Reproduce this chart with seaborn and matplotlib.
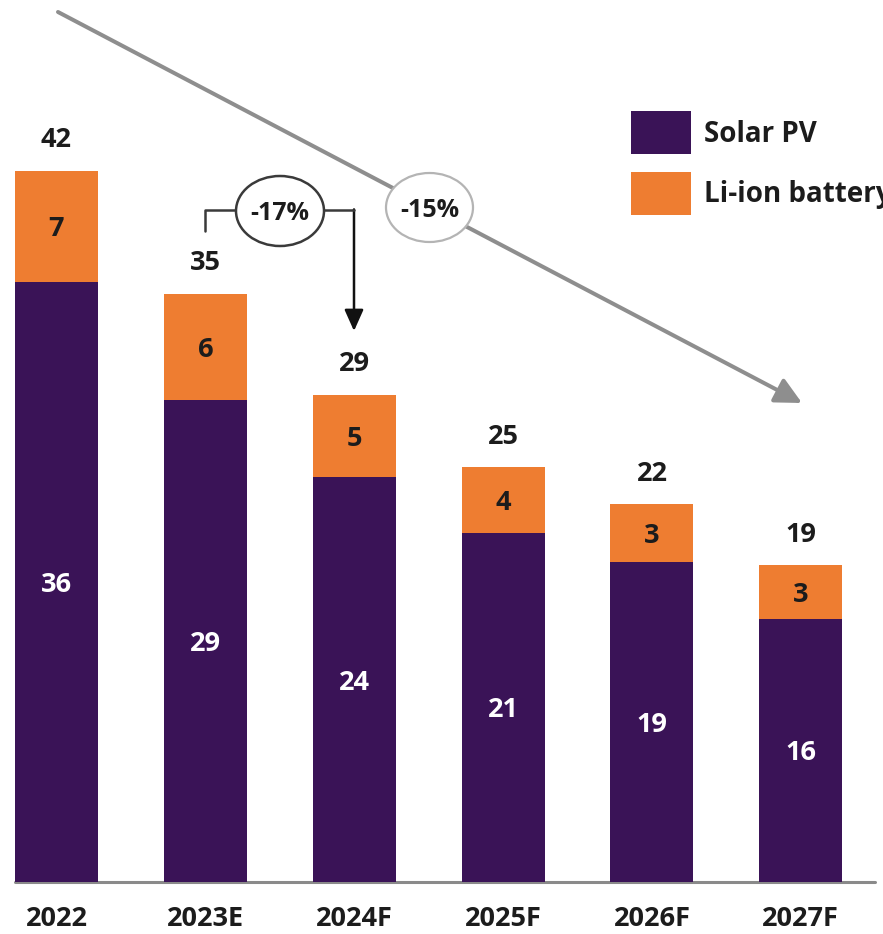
import matplotlib
matplotlib.use("Agg")
import matplotlib.pyplot as plt
from matplotlib.patches import Ellipse, Patch
from matplotlib.lines import Line2D
from matplotlib.transforms import Affine2D
import seaborn as sns
import pandas as pd

# ---- data ----
years = ["2022", "2023E", "2024F", "2025F", "2026F", "2027F"]
solar_pv = [35.6, 28.6, 24.0, 20.7, 19.0, 15.6]
li_ion_battery = [6.6, 6.3, 4.9, 3.9, 3.4, 3.2]
series_names = ["Solar PV", "Li-ion battery"]
trend_label = "-15%"
step_label = "-17%"

PURPLE = "#3a1357"
ORANGE = "#ee7d31"
INK = "#1c1c1c"

sns.set_style("white")
plt.rcParams["font.family"] = ["Open Sans", "DejaVu Sans"]
plt.rcParams["font.weight"] = "bold"

df = pd.DataFrame({"year": years, "solar": solar_pv, "battery": li_ion_battery})
df["total"] = df["solar"] + df["battery"]

W, H = 883, 934
fig = plt.figure(figsize=(W / 100, H / 100), dpi=100)
BASE = 882          # baseline, px from top
SCALE = 16.86       # px per unit
PITCH = 148.86      # px between bar centres
X0 = 56.5           # px centre of first bar

ax = fig.add_axes([0, (H - BASE) / H, 1, BASE / H])

# stacked bars: full total in orange, solar overlaid in purple
sns.barplot(data=df, x="year", y="total", order=years, color=ORANGE,
            saturation=1, width=0.557, errorbar=None, ax=ax, zorder=2,
            linewidth=0)
sns.barplot(data=df, x="year", y="solar", order=years, color=PURPLE,
            saturation=1, width=0.557, errorbar=None, ax=ax, zorder=3,
            linewidth=0)

ax.set_ylim(0, BASE / SCALE)
ax.set_xlim(-X0 / PITCH, (W - X0) / PITCH)
ax.set_yticks([])
ax.set_xlabel("")
ax.set_ylabel("")
sns.despine(ax=ax, left=True, bottom=True)
ax.tick_params(axis="x", length=0, pad=31.5, labelsize=19.5, labelcolor=INK)
for lab in ax.get_xticklabels():
    lab.set_verticalalignment("baseline")

# baseline
ax.plot([(15 - X0) / PITCH, (875 - X0) / PITCH], [0, 0], color="#8a8a8a",
        lw=2.2, clip_on=False, zorder=1)

# value labels
for i, row in df.iterrows():
    ax.text(i, row["solar"] / 2, f"{row['solar']:.0f}", color="white",
            ha="center", va="center_baseline", fontsize=19.5, zorder=5)
    ax.text(i, row["solar"] + row["battery"] / 2, f"{row['battery']:.0f}",
            color=INK, ha="center", va="center_baseline", fontsize=19.5, zorder=5)
    ax.annotate(f"{row['total']:.0f}", (i, row["total"]), xytext=(0, 24),
                textcoords="offset points", ha="center", va="center_baseline",
                fontsize=19.5, color=INK)

# legend
handles = [Patch(facecolor=PURPLE, edgecolor="none"),
           Patch(facecolor=ORANGE, edgecolor="none")]
ax.legend(handles, series_names, loc="upper left",
          bbox_to_anchor=(631 / W, 1 - 111 / H), bbox_transform=fig.transFigure,
          frameon=False, borderpad=0, borderaxespad=0,
          handlelength=2.16, handleheight=2.03, handletextpad=0.45,
          labelspacing=0.62, prop={"size": 20, "weight": "bold"},
          labelcolor=INK)

# pixel transform (origin top-left) for the annotations
T = Affine2D().scale(1 / W, -1 / H).translate(0, 1) + fig.transFigure

# overall downward trend arrow
ax.annotate("", xy=(802, 403), xytext=(58, 12), xycoords=T, textcoords=T,
            arrowprops=dict(arrowstyle="-|>,head_length=0.8,head_width=0.4",
                            color="#8e8e8e", lw=2.9, shrinkA=0, shrinkB=0,
                            mutation_scale=20),
            annotation_clip=False)
fig.add_artist(Ellipse((429.5, 207.5), 87, 69, transform=T, facecolor="white",
                       edgecolor="#b4b4b4", lw=1.6, zorder=6))
fig.text(429.5, 207.5, trend_label, transform=T, ha="center",
         va="center_baseline", fontsize=18, color=INK, zorder=7)

# year-on-year step connector
STEP = "#3a3a3a"
fig.add_artist(Line2D([205, 205, 236], [231, 210, 210], transform=T,
                      color=STEP, lw=1.8, zorder=6))
fig.add_artist(Line2D([324, 354], [210, 210], transform=T,
                      color=STEP, lw=1.8, zorder=6))
ax.annotate("", xy=(354, 331), xytext=(354, 209.4), xycoords=T, textcoords=T,
            arrowprops=dict(arrowstyle="-|>,head_length=0.65,head_width=0.29",
                            color="#111111", lw=1.8, shrinkA=0, shrinkB=0,
                            mutation_scale=20),
            annotation_clip=False)
fig.add_artist(Ellipse((280, 211), 88, 70, transform=T, facecolor="white",
                       edgecolor=STEP, lw=1.8, zorder=6))
fig.text(280, 211, step_label, transform=T, ha="center",
         va="center_baseline", fontsize=18, color=INK, zorder=7)

fig.savefig("out.png", dpi=100)
